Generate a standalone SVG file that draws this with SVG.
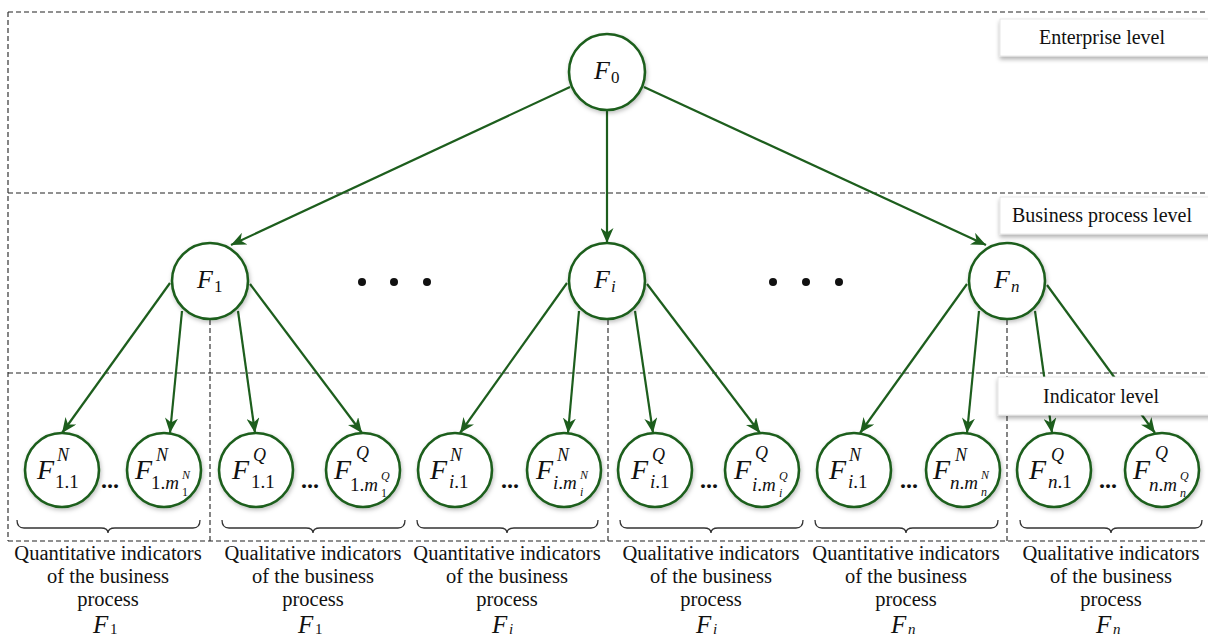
<svg xmlns="http://www.w3.org/2000/svg" width="1208" height="637" viewBox="0 0 1208 637">
<defs>
<marker id="arr" markerUnits="userSpaceOnUse" markerWidth="16" markerHeight="13" refX="15" refY="6.5" orient="auto">
<path d="M0,0 L15,6.5 L0,13 L4.5,6.5 z" fill="#1d5e1d"/>
</marker>
<filter id="sh" x="-30%" y="-30%" width="160%" height="170%">
<feDropShadow dx="1" dy="2" stdDeviation="2" flood-color="#000" flood-opacity="0.25"/>
</filter>
<filter id="bsh" x="-10%" y="-30%" width="120%" height="180%">
<feDropShadow dx="0" dy="3" stdDeviation="2" flood-color="#000" flood-opacity="0.3"/>
</filter>
</defs>
<style>
.dash{stroke:#222;stroke-width:1.1;stroke-dasharray:5 3;fill:none}
.edge{stroke:#1d5e1d;stroke-width:2.2;fill:none;marker-end:url(#arr)}
.nd{fill:#fff;stroke:#1d5e1d;stroke-width:2.6;filter:url(#sh)}
.F{font-family:"Liberation Serif",serif;font-style:italic;fill:#111}
.t{font-family:"Liberation Serif",serif;fill:#111}
.lb{fill:#fff;stroke:#e2e2e2;stroke-width:0.8;filter:url(#bsh)}
.br{stroke:#333;stroke-width:1.3;fill:none}
.it{font-style:italic}
</style>
<rect width="1208" height="637" fill="#fff"/>

<g id="levels">
<line class="dash" x1="8" y1="12" x2="1208" y2="12"/>
<line class="dash" x1="8" y1="193" x2="1208" y2="193"/>
<line class="dash" x1="8" y1="373" x2="1208" y2="373"/>
<line class="dash" x1="8" y1="541" x2="1208" y2="541"/>
<line class="dash" x1="8" y1="12" x2="8" y2="541"/>
<line class="dash" x1="210" y1="320" x2="210" y2="541"/>
<line class="dash" x1="608" y1="320" x2="608" y2="541"/>
<line class="dash" x1="1007" y1="320" x2="1007" y2="541"/>
</g>

<g id="connectors">
<line class="edge" x1="570" y1="87" x2="231" y2="245"/>
<line class="edge" x1="607" y1="110" x2="607" y2="243"/>
<line class="edge" x1="644" y1="87" x2="986" y2="245"/>
<line class="edge" x1="170" y1="283" x2="62" y2="433"/>
<line class="edge" x1="182" y1="311" x2="170" y2="433"/>
<line class="edge" x1="238" y1="311" x2="255" y2="433"/>
<line class="edge" x1="250" y1="284" x2="362" y2="433"/>
<line class="edge" x1="567" y1="283" x2="460" y2="433"/>
<line class="edge" x1="579" y1="311" x2="568" y2="433"/>
<line class="edge" x1="635" y1="311" x2="653" y2="433"/>
<line class="edge" x1="647" y1="284" x2="760" y2="433"/>
<line class="edge" x1="967" y1="284" x2="860" y2="433"/>
<line class="edge" x1="979" y1="311" x2="967" y2="433"/>
<line class="edge" x1="1035" y1="311" x2="1052" y2="433"/>
<line class="edge" x1="1047" y1="285" x2="1155" y2="433"/>
</g>

<g id="label-enterprise">
<rect class="lb" x="1000" y="19" width="215" height="37"/>
<text class="t" x="1102" y="44" font-size="20" text-anchor="middle">Enterprise level</text>
</g>
<g id="label-business">
<rect class="lb" x="1000" y="197" width="215" height="37"/>
<text class="t" x="1102" y="222" font-size="20" text-anchor="middle">Business process level</text>
</g>
<g id="label-indicator">
<rect class="lb" x="998" y="377" width="217" height="38"/>
<text class="t" x="1101" y="403" font-size="20" text-anchor="middle">Indicator level</text>
</g>

<g id="F0">
<circle class="nd" cx="607" cy="72" r="38"/>
<text class="F" x="594" y="79" font-size="26">F</text>
<text class="t" x="611" y="83" font-size="17">0</text>
</g>
<g id="F1">
<circle class="nd" cx="210" cy="281" r="38"/>
<text class="F" x="197" y="288" font-size="26">F</text>
<text class="t" x="214" y="292" font-size="17">1</text>
</g>
<g id="Fi">
<circle class="nd" cx="607" cy="281" r="38"/>
<text class="F" x="594" y="288" font-size="26">F</text>
<text class="F" x="611" y="292" font-size="17">i</text>
</g>
<g id="Fn">
<circle class="nd" cx="1007" cy="281" r="38"/>
<text class="F" x="994" y="288" font-size="26">F</text>
<text class="F" x="1011" y="292" font-size="17">n</text>
</g>

<g id="dots">
<circle cx="362" cy="282" r="4" fill="#111"/>
<circle cx="394" cy="282" r="4" fill="#111"/>
<circle cx="427" cy="282" r="4" fill="#111"/>
<circle cx="773" cy="282" r="4" fill="#111"/>
<circle cx="806" cy="282" r="4" fill="#111"/>
<circle cx="839" cy="282" r="4" fill="#111"/>
</g>

<g id="L1">
<circle class="nd" cx="62" cy="470" r="37"/>
<text class="F" x="37" y="479" font-size="28">F</text>
<text class="F" x="57" y="461" font-size="18">N</text>
<text class="t" x="55" y="488" font-size="19">1.1</text>
</g>
<g id="L2">
<circle class="nd" cx="164" cy="470" r="37"/>
<text class="F" x="135" y="479" font-size="28">F</text>
<text class="F" x="156" y="461" font-size="18">N</text>
<text class="t" x="151" y="489" font-size="19">1.<tspan class="it">m</tspan></text>
<text class="t" x="182" y="496" font-size="12">1</text>
<text class="F" x="182" y="479" font-size="12">N</text>
</g>
<g id="L3">
<circle class="nd" cx="256" cy="470" r="37"/>
<text class="F" x="232" y="479" font-size="28">F</text>
<text class="F" x="253" y="461" font-size="18">Q</text>
<text class="t" x="251" y="488" font-size="19">1.1</text>
</g>
<g id="L4">
<circle class="nd" cx="363" cy="470" r="37"/>
<text class="F" x="334" y="479" font-size="28">F</text>
<text class="F" x="356" y="459" font-size="18">Q</text>
<text class="t" x="350" y="491" font-size="19">1.<tspan class="it">m</tspan></text>
<text class="t" x="381" y="497" font-size="12">1</text>
<text class="F" x="381" y="480" font-size="12">Q</text>
</g>
<g id="L5">
<circle class="nd" cx="455" cy="470" r="37"/>
<text class="F" x="430" y="479" font-size="28">F</text>
<text class="F" x="450" y="461" font-size="18">N</text>
<text class="t" x="449" y="488" font-size="19"><tspan class="it">i</tspan>.1</text>
</g>
<g id="L6">
<circle class="nd" cx="564" cy="470" r="37"/>
<text class="F" x="536" y="479" font-size="28">F</text>
<text class="F" x="557" y="461" font-size="18">N</text>
<text class="t" x="553" y="489" font-size="19"><tspan class="it">i</tspan>.<tspan class="it">m</tspan></text>
<text class="F" x="580" y="496" font-size="12">i</text>
<text class="F" x="580" y="479" font-size="12">N</text>
</g>
<g id="L7">
<circle class="nd" cx="655" cy="470" r="37"/>
<text class="F" x="631" y="479" font-size="28">F</text>
<text class="F" x="652" y="461" font-size="18">Q</text>
<text class="t" x="650" y="488" font-size="19"><tspan class="it">i</tspan>.1</text>
</g>
<g id="L8">
<circle class="nd" cx="762" cy="470" r="37"/>
<text class="F" x="734" y="479" font-size="28">F</text>
<text class="F" x="755" y="459" font-size="18">Q</text>
<text class="t" x="752" y="491" font-size="19"><tspan class="it">i</tspan>.<tspan class="it">m</tspan></text>
<text class="F" x="779" y="497" font-size="12">i</text>
<text class="F" x="779" y="480" font-size="12">Q</text>
</g>
<g id="L9">
<circle class="nd" cx="854" cy="470" r="37"/>
<text class="F" x="829" y="479" font-size="28">F</text>
<text class="F" x="849" y="461" font-size="18">N</text>
<text class="t" x="848" y="488" font-size="19"><tspan class="it">i</tspan>.1</text>
</g>
<g id="L10">
<circle class="nd" cx="963" cy="470" r="37"/>
<text class="F" x="933" y="479" font-size="28">F</text>
<text class="F" x="955" y="461" font-size="18">N</text>
<text class="t" x="950" y="489" font-size="19"><tspan class="it">n</tspan>.<tspan class="it">m</tspan></text>
<text class="F" x="981" y="496" font-size="12">n</text>
<text class="F" x="981" y="479" font-size="12">N</text>
</g>
<g id="L11">
<circle class="nd" cx="1054" cy="470" r="37"/>
<text class="F" x="1029" y="479" font-size="28">F</text>
<text class="F" x="1051" y="461" font-size="18">Q</text>
<text class="t" x="1048" y="488" font-size="19"><tspan class="it">n</tspan>.1</text>
</g>
<g id="L12">
<circle class="nd" cx="1162" cy="470" r="37"/>
<text class="F" x="1133" y="479" font-size="28">F</text>
<text class="F" x="1155" y="459" font-size="18">Q</text>
<text class="t" x="1149" y="491" font-size="19"><tspan class="it">n</tspan>.<tspan class="it">m</tspan></text>
<text class="F" x="1180" y="497" font-size="12">n</text>
<text class="F" x="1180" y="480" font-size="12">Q</text>
</g>

<g id="ellipses" class="t" font-size="24" font-weight="bold" text-anchor="middle">
<text x="110" y="488">...</text>
<text x="310" y="488">...</text>
<text x="510" y="488">...</text>
<text x="709" y="488">...</text>
<text x="909" y="488">...</text>
<text x="1108" y="488">...</text>
</g>

<g id="braces">
<path class="br" d="M17,520 Q17,528 24,528 L101,528 Q108,528 108,533 Q108,528 115,528 L193,528 Q200,528 200,520"/>
<path class="br" d="M222,520 Q222,528 229,528 L306,528 Q313,528 313,533 Q313,528 320,528 L398,528 Q405,528 405,520"/>
<path class="br" d="M417,520 Q417,528 424,528 L500,528 Q507,528 507,533 Q507,528 514,528 L591,528 Q598,528 598,520"/>
<path class="br" d="M620,520 Q620,528 627,528 L704,528 Q711,528 711,533 Q711,528 718,528 L796,528 Q803,528 803,520"/>
<path class="br" d="M815,520 Q815,528 822,528 L899,528 Q906,528 906,533 Q906,528 913,528 L991,528 Q998,528 998,520"/>
<path class="br" d="M1020,520 Q1020,528 1027,528 L1104,528 Q1111,528 1111,533 Q1111,528 1118,528 L1195,528 Q1202,528 1202,520"/>
</g>

<g id="captions" class="t" font-size="20.5" text-anchor="middle">
<text x="108" y="560">Quantitative indicators</text>
<text x="108" y="583">of the business</text>
<text x="108" y="606">process</text>
<text x="313" y="560">Qualitative indicators</text>
<text x="313" y="583">of the business</text>
<text x="313" y="606">process</text>
<text x="507" y="560">Quantitative indicators</text>
<text x="507" y="583">of the business</text>
<text x="507" y="606">process</text>
<text x="711" y="560">Qualitative indicators</text>
<text x="711" y="583">of the business</text>
<text x="711" y="606">process</text>
<text x="906" y="560">Quantitative indicators</text>
<text x="906" y="583">of the business</text>
<text x="906" y="606">process</text>
<text x="1111" y="560">Qualitative indicators</text>
<text x="1111" y="583">of the business</text>
<text x="1111" y="606">process</text>
</g>
<g id="caption-F">
<text class="F" x="93" y="633" font-size="25">F</text><text class="t" x="110" y="634" font-size="15">1</text>
<text class="F" x="298" y="633" font-size="25">F</text><text class="t" x="315" y="634" font-size="15">1</text>
<text class="F" x="492" y="633" font-size="25">F</text><text class="F" x="509" y="634" font-size="15">i</text>
<text class="F" x="696" y="633" font-size="25">F</text><text class="F" x="713" y="634" font-size="15">i</text>
<text class="F" x="891" y="633" font-size="25">F</text><text class="F" x="908" y="634" font-size="15">n</text>
<text class="F" x="1096" y="633" font-size="25">F</text><text class="F" x="1113" y="634" font-size="15">n</text>
</g>
</svg>
